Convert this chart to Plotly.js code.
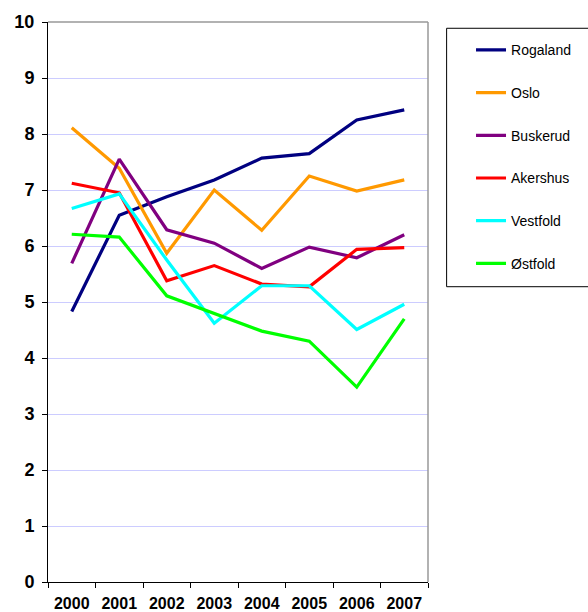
<!DOCTYPE html>
<html><head><meta charset="utf-8">
<script src="https://cdn.plot.ly/plotly-3.0.1.min.js"></script>
<style>html,body{margin:0;padding:0;background:#fff}</style>
</head><body>
<div id="chart" style="width:588px;height:612px"></div>
<script>
const years = ["2000","2001","2002","2003","2004","2005","2006","2007"];
const rogaland = [4.83, 6.55, 6.88, 7.18, 7.57, 7.65, 8.25, 8.43];
const oslo     = [8.11, 7.39, 5.87, 7.00, 6.28, 7.25, 6.98, 7.18];
const buskerud = [5.69, 7.55, 6.29, 6.05, 5.60, 5.98, 5.79, 6.20];
const akershus = [7.12, 6.95, 5.38, 5.65, 5.32, 5.27, 5.94, 5.97];
const vestfold = [6.67, 6.93, 5.75, 4.62, 5.29, 5.29, 4.51, 4.96];
const ostfold  = [6.21, 6.16, 5.11, 4.80, 4.48, 4.30, 3.48, 4.70];

const series = [
  ["Rogaland", rogaland, "#000080"],
  ["Oslo", oslo, "#FF9900"],
  ["Buskerud", buskerud, "#800080"],
  ["Akershus", akershus, "#FF0000"],
  ["Vestfold", vestfold, "#00FFFF"],
  ["Østfold", ostfold, "#00FF00"]
];
const data = series.map((s, i) => ({
  type: "scatter", mode: "lines", name: s[0], x: years, y: s[1],
  line: {color: s[2], width: 3.2}, legendgroup: "g" + i
}));
const FONT = "Liberation Sans, Arial, sans-serif";
const layout = {
  width: 588, height: 612,
  margin: {l: 48, r: 160, t: 22, b: 30},
  paper_bgcolor: "#fff", plot_bgcolor: "#fff",
  font: {family: FONT, color: "#000"},
  showlegend: true,
  legend: {
    x: 1.1132, xanchor: "left", y: 0.978, yanchor: "top",
    borderwidth: 0, bgcolor: "rgba(0,0,0,0)",
    font: {size: 14, color: "#000", family: FONT}, tracegroupgap: 21.5
  },
  xaxis: {
    type: "category", range: [-0.5, 7.5], tickson: "boundaries",
    ticks: "outside", ticklen: 5, tickcolor: "#000",
    showline: true, linecolor: "#000", linewidth: 1,
    showgrid: false, zeroline: false, ticklabelstandoff: 7,
    tickfont: {size: 16, family: FONT, weight: "bold"}
  },
  yaxis: {
    range: [0, 10], dtick: 1, ticks: "outside", ticklen: 5, tickcolor: "#000",
    showline: true, linecolor: "#000", linewidth: 1,
    gridcolor: "#ccccff", gridwidth: 1, zeroline: false,
    ticklabelstandoff: 4,
    tickfont: {size: 18, family: FONT, weight: "bold"}
  },
  shapes: [
    {type: "line", xref: "paper", yref: "paper", x0: 0, x1: 1, y0: 1, y1: 1, line: {color: "#999999", width: 1.5}},
    {type: "line", xref: "paper", yref: "paper", x0: 1, x1: 1, y0: 0, y1: 1, line: {color: "#999999", width: 1.5}},
    {type: "rect", xref: "paper", yref: "paper", x0: 1.049, x1: 1.45, y0: 0.5273, y1: 0.9888, line: {color: "#000", width: 1}, fillcolor: "rgba(0,0,0,0)"}
  ]
};
Plotly.newPlot("chart", data, layout, {displayModeBar: false, staticPlot: true});
</script>
</body></html>
